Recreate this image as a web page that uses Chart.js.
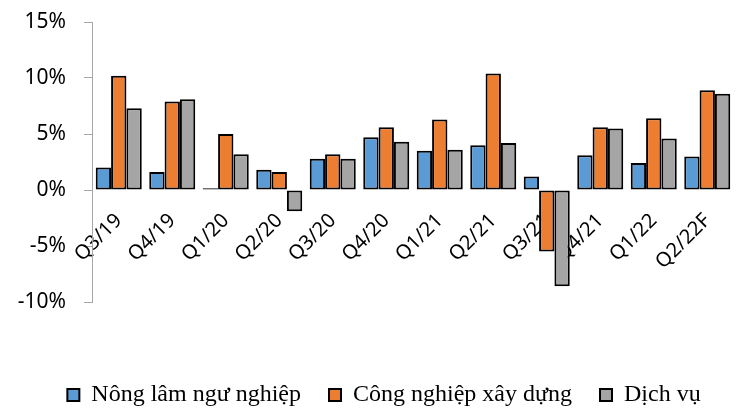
<!DOCTYPE html>
<html>
<head>
<meta charset="utf-8">
<script src="https://cdn.jsdelivr.net/npm/chart.js@4/dist/chart.umd.min.js"></script>
<style>
  html, body { margin: 0; padding: 0; background: #fff; }
  #wrap { width: 740px; height: 408px; }
</style>
</head>
<body>
<div id="wrap"><canvas id="gdp-chart" width="740" height="408"></canvas></div>
<script>
// quarters on the x axis
const quarters = ['Q3/19', 'Q4/19', 'Q1/20', 'Q2/20', 'Q3/20', 'Q4/20', 'Q1/21', 'Q2/21', 'Q3/21', 'Q4/21', 'Q1/22', 'Q2/22F'];

// growth by sector, % y/y
const agriculture = [2.0, 1.6, 0.15, 1.8, 2.8, 4.7, 3.5, 4.0, 1.2, 3.1, 2.4, 3.0];
const industry = [10.2, 7.9, 5.0, 1.6, 3.2, 5.6, 6.3, 10.4, -5.5, 5.6, 6.4, 8.9];
const services = [7.3, 8.1, 3.2, -1.9, 2.8, 4.3, 3.6, 4.2, -8.6, 5.5, 4.6, 8.6];

const seriesNames = ['Nông lâm ngư nghiệp', 'Công nghiệp xây dựng', 'Dịch vụ'];
const yTicks = [-10, -5, 0, 5, 10, 15];

const sansFont = "'Noto Sans', 'Open Sans', sans-serif";

const barStyle = (color) => ({
  backgroundColor: color,
  borderColor: '#000',
  borderWidth: 2,
  borderSkipped: false,
  categoryPercentage: 0.86,
  barPercentage: 1.0
});

// the legend sits a bit right of the page centre in the original
const legendShift = {
  id: 'legendShift',
  afterLayout(chart) {
    chart.legend.left += 17;
    chart.legend.right += 17;
  }
};

new Chart(document.getElementById('gdp-chart'), {
  type: 'bar',
  data: {
    labels: quarters,
    datasets: [
      { label: seriesNames[0], data: agriculture, ...barStyle('#5B9BD5') },
      { label: seriesNames[1], data: industry, ...barStyle('#ED7D31') },
      { label: seriesNames[2], data: services, ...barStyle('#A5A5A5') }
    ]
  },
  plugins: [legendShift],
  options: {
    responsive: false,
    animation: false,
    layout: { padding: { left: 0, right: 6, top: 22, bottom: -9 } },
    plugins: {
      tooltip: { enabled: false },
      legend: {
        position: 'bottom',
        align: 'center',
        title: { display: true, text: '', font: { size: 10 }, padding: { top: 0, bottom: 41 } },
        labels: {
          color: '#000',
          font: { family: "'Liberation Serif', 'Times New Roman', serif", size: 24 },
          boxWidth: 12,
          boxHeight: 12,
          padding: 28
        }
      }
    },
    scales: {
      x: {
        position: { y: 0 },
        z: 1,
        grid: { display: false },
        border: { display: false },
        ticks: {
          color: '#000',
          font: { family: sansFont, size: 20 },
          minRotation: 45,
          maxRotation: 45,
          autoSkip: false,
          padding: 11
        }
      },
      y: {
        min: -10,
        max: 15,
        afterFit: (scale) => {
          // fixed axis box; keep the label gap from pushing the plot down
          scale.width = 92;
          scale.paddingTop = 12;
          scale.paddingBottom = 12;
        },
        afterBuildTicks: (scale) => { scale.ticks = yTicks.map(v => ({ value: v })); },
        grid: { drawOnChartArea: false, drawTicks: true, tickLength: 8, color: '#A6A6A6' },
        border: { display: true, color: '#A6A6A6', width: 1 },
        ticks: {
          color: '#000',
          font: { family: sansFont, size: 21 },
          padding: 18,
          callback: (v) => v + '%'
        }
      }
    }
  }
});
</script>
</body>
</html>
